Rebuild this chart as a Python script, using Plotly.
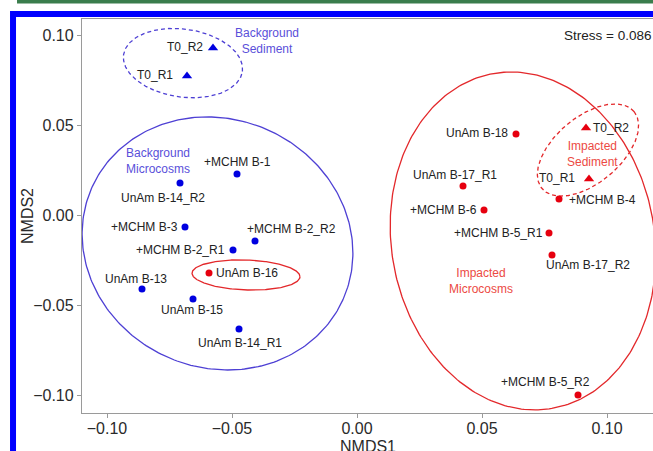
import numpy as np
import plotly.graph_objects as go

# ---------------- data ----------------
bg_micro_names = ["+MCHM B-1", "UnAm B-14_R2", "+MCHM B-3", "+MCHM B-2_R2",
                  "+MCHM B-2_R1", "UnAm B-13", "UnAm B-15", "UnAm B-14_R1"]
bg_micro_x = [-0.0480, -0.0708, -0.0688, -0.0408, -0.0496, -0.0860, -0.0656, -0.0472]
bg_micro_y = [0.0228, 0.0178, -0.0067, -0.0144, -0.0194, -0.0411, -0.0467, -0.0633]

bg_sed_names = ["T0_R2", "T0_R1"]
bg_sed_x = [-0.0576, -0.0680]
bg_sed_y = [0.0928, 0.0772]

imp_micro_names = ["UnAm B-16", "UnAm B-18", "UnAm B-17_R1", "+MCHM B-6", "+MCHM B-4",
                   "+MCHM B-5_R1", "UnAm B-17_R2", "+MCHM B-5_R2"]
imp_micro_x = [-0.0592, 0.0636, 0.0424, 0.0508, 0.0808, 0.0768, 0.0780, 0.0884]
imp_micro_y = [-0.0322, 0.0450, 0.0161, 0.0028, 0.0089, -0.0100, -0.0222, -0.1000]

imp_sed_names = ["T0_R2", "T0_R1"]
imp_sed_x = [0.0916, 0.0928]
imp_sed_y = [0.0483, 0.0200]

x_ticks = [-0.10, -0.05, 0.00, 0.05, 0.10]
y_ticks = [-0.10, -0.05, 0.00, 0.05, 0.10]
tick_text = ["\u22120.10", "\u22120.05", "0.00", "0.05", "0.10"]
stress_text = "Stress = 0.086"

# ellipses: centre x, centre y, semi-axis p, semi-axis q (x units), angle deg
ell_cx = [-0.0696, -0.0558, -0.0444, 0.0924, 0.0664]
ell_cy = [0.0844, -0.0158, -0.0333, 0.0361, -0.0144]
ell_p = [0.0240, 0.0550, 0.0216, 0.0240, 0.0526]
ell_q = [0.0136, 0.0497, 0.0060, 0.0132, 0.0680]
ell_ang = [-8, -24, -2, 40, 10]

# ---------------- style ----------------
BLUE = "#0000e0"
RED = "#e6000f"
BLUE_LINE = "#4e40d4"
RED_LINE = "#e3282b"
BLUE_TXT = "#5a4fda"
RED_TXT = "#ec4a44"
FONT = "Liberation Sans, Arial, sans-serif"
PX_X, PX_Y = 2500.0, 1800.0
ell_color = [BLUE_LINE, BLUE_LINE, RED_LINE, RED_LINE, RED_LINE]
ell_dash = ["dash", "solid", "solid", "dash", "solid"]

# label placements: (anchor, xshift, yshift)
bg_micro_lab = [("c", 0, 12), ("c", -17, -15), ("r", -6, 0), ("c", 36, 12),
                ("r", -7, 0), ("c", -6, 10), ("c", -1, -11), ("c", 1, -14)]
bg_sed_lab = [("r", -9, 1), ("r", -13, 1)]
imp_micro_lab = [("l", 6, 0), ("r", -7, 1), ("c", -8, 11), ("r", -6, 0), ("l", 9, -1),
                 ("r", -5, 0), ("c", 36, -10), ("c", -33, 13)]
imp_sed_lab = [("l", 6, 0), ("r", -13, 1)]

fig = go.Figure()

t = np.linspace(0, 2 * np.pi, 300)
for cx, cy, p, q, a, col, dsh in zip(ell_cx, ell_cy, ell_p, ell_q, ell_ang, ell_color, ell_dash):
    th = np.deg2rad(a)
    u, v = p * np.cos(t), q * np.sin(t)
    X = u * np.cos(th) - v * np.sin(th)
    Y = u * np.sin(th) + v * np.cos(th)
    fig.add_trace(go.Scatter(x=cx + X, y=cy + Y * PX_X / PX_Y, mode="lines",
                             line=dict(color=col, width=1.3, dash="4px,3px" if dsh == "dash" else "solid"),
                             hoverinfo="skip", showlegend=False))

groups = [
    (bg_micro_x, bg_micro_y, bg_micro_names, bg_micro_lab, BLUE, "circle", 7),
    (bg_sed_x, bg_sed_y, bg_sed_names, bg_sed_lab, BLUE, "triangle-up", 9),
    (imp_micro_x, imp_micro_y, imp_micro_names, imp_micro_lab, RED, "circle", 7),
    (imp_sed_x, imp_sed_y, imp_sed_names, imp_sed_lab, RED, "triangle-up", 9),
]
annotations = []
anchor_map = {"c": "center", "l": "left", "r": "right"}
for xs, ys, names, labs, col, sym, sz in groups:
    fig.add_trace(go.Scatter(x=xs, y=ys, mode="markers",
                             marker=dict(color=col, symbol=sym, size=sz, line=dict(width=0)),
                             text=names, showlegend=False, cliponaxis=False))
    for x, y, n, (anc, dx, dy) in zip(xs, ys, names, labs):
        annotations.append(dict(x=x, y=y, xref="x", yref="y", text=n, showarrow=False,
                                xanchor=anchor_map[anc], yanchor="middle",
                                xshift=dx, yshift=dy, borderpad=0,
                                font=dict(family=FONT, size=12, color="#222222")))

group_labels = [
    ("Background<br>Sediment", -0.036, 0.0969, BLUE_TXT),
    ("Background<br>Microcosms", -0.0796, 0.0300, BLUE_TXT),
    ("Impacted<br>Sediment", 0.0940, 0.0339, RED_TXT),
    ("Impacted<br>Microcosms", 0.0496, -0.0364, RED_TXT),
]
for txt, x, y, col in group_labels:
    annotations.append(dict(x=x, y=y, xref="x", yref="y", text=txt, showarrow=False,
                            xanchor="center", yanchor="middle", align="center", borderpad=0,
                            font=dict(family=FONT, size=12, color=col)))

annotations.append(dict(x=1, y=0.957, xref="paper", yref="paper", text=stress_text,
                        showarrow=False, xanchor="right", yanchor="middle", xshift=-1, borderpad=0,
                        font=dict(family=FONT, size=13.5, color="#222222")))

# axis titles placed as annotations (x title partially below the picture edge like the original)
annotations.append(dict(x=0.5, y=0, xref="paper", yref="paper", text="NMDS1", showarrow=False,
                        xanchor="center", yanchor="top", yshift=-24, borderpad=0,
                        font=dict(family=FONT, size=16, color="#2a2a2a")))
annotations.append(dict(x=0, y=0.5, xref="paper", yref="paper", text="NMDS2", showarrow=False,
                        xanchor="center", yanchor="middle", xshift=-55, textangle=-90, borderpad=0,
                        font=dict(family=FONT, size=16, color="#2a2a2a")))

shapes = [
    dict(type="rect", xref="paper", yref="paper", x0=-0.1208, x1=1.2, y0=-0.3, y1=1.0127,
         line=dict(color="#0000ff", width=6), fillcolor="rgba(0,0,0,0)", layer="above"),
    dict(type="rect", xref="paper", yref="paper", x0=-0.1138, x1=1.2, y0=1.0393, y1=1.06,
         line=dict(width=0), fillcolor="#3a7d4c", layer="above"),
]

fig.update_layout(
    width=653, height=451,
    margin=dict(l=82, r=0, t=19, b=38, autoexpand=False),
    paper_bgcolor="white", plot_bgcolor="white",
    font=dict(family=FONT, color="#222222"),
    annotations=annotations, shapes=shapes,
    showlegend=False,
)
fig.update_xaxes(range=[-0.11, 0.1184], tickvals=x_ticks, ticktext=tick_text,
                 showgrid=False, zeroline=False, showline=True, linecolor="#9a9a9a", linewidth=1.3,
                 mirror=True, ticks="outside", ticklen=4, tickcolor="#9a9a9a", automargin=False,
                 ticklabelstandoff=-3,
                 tickfont=dict(size=16, family=FONT, color="#2a2a2a"))
fig.update_yaxes(range=[-0.110, 0.1089], tickvals=y_ticks, ticktext=tick_text,
                 showgrid=False, zeroline=False, showline=True, linecolor="#9a9a9a", linewidth=1.3,
                 mirror=False, ticks="outside", ticklen=4, tickcolor="#9a9a9a", automargin=False,
                 tickfont=dict(size=16, family=FONT, color="#2a2a2a"))

fig.write_html("out.html", config={"displayModeBar": False},
               post_script="document.body.style.margin='0px';document.body.style.overflow='hidden';")
